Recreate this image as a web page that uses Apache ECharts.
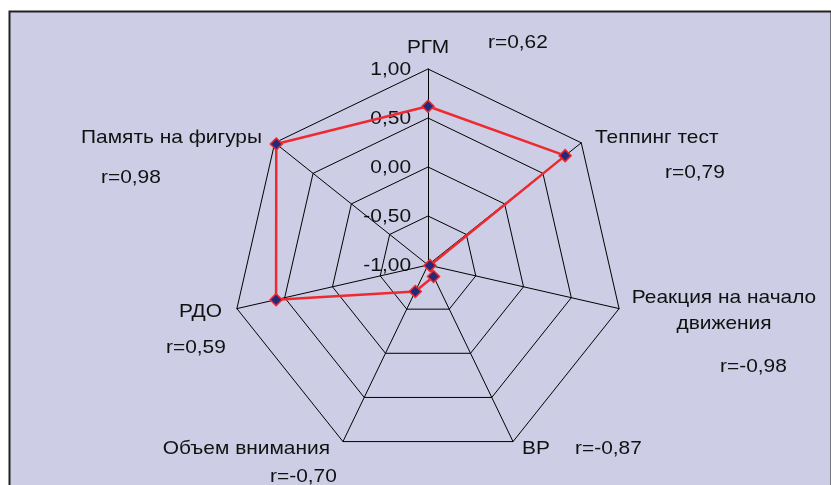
<!DOCTYPE html>
<html>
<head>
<meta charset="utf-8">
<script src="https://cdn.jsdelivr.net/npm/echarts@6/dist/echarts.min.js"></script>
<style>
  html, body { margin: 0; padding: 0; background: #fff; }
  #chart { width: 831px; height: 485px; }
</style>
</head>
<body>
<div id="chart"></div>
<script>
const FONT = "'Liberation Sans', Arial, sans-serif";
const TEXT = "#111";
const LINE = "#ee2a30";

// indicators in ECharts order (counterclockwise from the top)
const axisNames = [
  "РГМ", "Память на фигуры", "РДО", "Объем внимания",
  "ВР", "Реакция на начало\nдвижения", "Теппинг тест",
];
const values = [0.62, 0.98, 0.59, -0.70, -0.87, -0.98, 0.79];
const rLabels = ["r=0,62", "r=0,98", "r=0,59", "r=-0,70", "r=-0,87", "r=-0,98", "r=0,79"];
const tickLabels = ["1,00", "0,50", "0,00", "-0,50", "-1,00"];

const CX = 428, CY = 265, R = 196;

// where the axis names / r labels sit (layout only)
const namePos = [
  [428, 48, "center"], [262, 138, "right"], [222, 312, "right"], [330, 449, "right"],
  [522, 449, "left"], [724, 311, "center"], [595, 138, "left"],
];
const rPos = [
  [488, 43, "left"], [101, 178, "left"], [166, 348, "left"], [270, 477, "left"],
  [575, 449, "left"], [720, 367, "left"], [665, 173, "left"],
];

const chart = echarts.init(document.getElementById("chart"), null, { renderer: "canvas" });

function txt(text, x, y, align) {
  return {
    type: "text", x, y, scaleX: 1.1, silent: true,
    style: {
      text, align, verticalAlign: "middle", fill: TEXT,
      font: "19px " + FONT, lineHeight: 26,
    },
  };
}

const graphics = [
  {
    type: "rect", z: -10, silent: true,
    shape: { x: 9.5, y: 11.5, width: 822, height: 480 },
    style: { fill: "#cdcde5", stroke: "#222", lineWidth: 2 },
  },
];
axisNames.forEach((n, i) => graphics.push(txt(n, namePos[i][0], namePos[i][1], namePos[i][2])));
rLabels.forEach((n, i) => graphics.push(txt(n, rPos[i][0], rPos[i][1], rPos[i][2])));
tickLabels.forEach((t, i) => {
  graphics.push(txt(t, 411, CY - R + i * (R / (tickLabels.length - 1)) + 1, "right"));
});

chart.setOption({
  animation: false,
  backgroundColor: "transparent",
  graphic: graphics,
  radar: {
    center: [CX, CY],
    radius: R,
    startAngle: 90,
    shape: "polygon",
    splitNumber: 4,
    indicator: axisNames.map((n) => ({ name: n, min: -1, max: 1 })),
    axisName: { show: false },
    axisLine: { lineStyle: { color: "#000", width: 1 } },
    splitLine: { lineStyle: { color: "#000", width: 1 } },
    splitArea: { show: false },
  },
  series: [
    {
      type: "radar",
      symbol: "diamond",
      symbolSize: 12,
      lineStyle: { color: LINE, width: 2.5 },
      itemStyle: { color: "#242a78", borderColor: LINE, borderWidth: 1.5 },
      data: [{ value: values }],
    },
  ],
});
</script>
</body>
</html>
